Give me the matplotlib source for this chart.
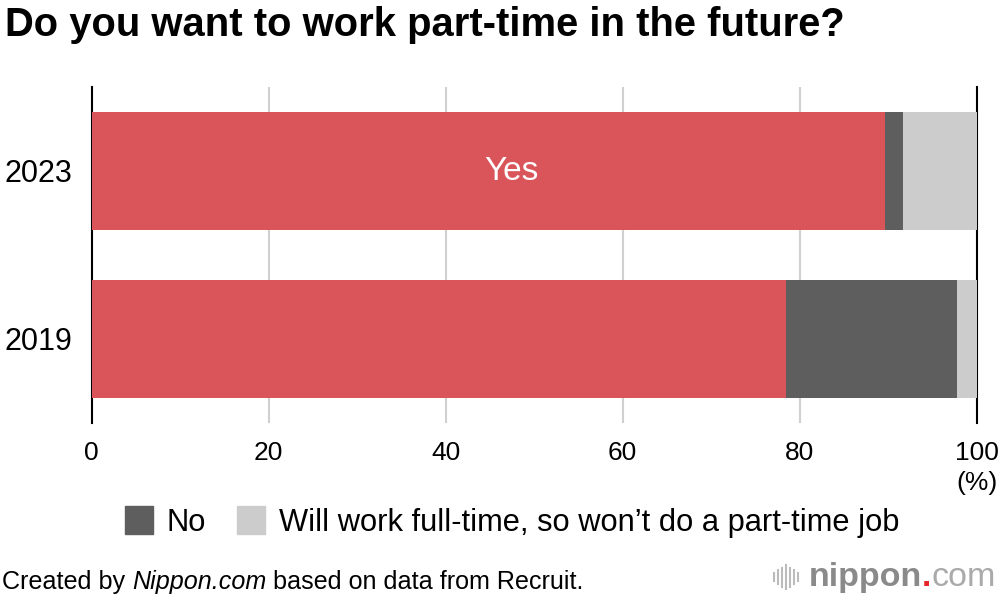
import matplotlib
matplotlib.use("Agg")
import matplotlib.pyplot as plt
from matplotlib.patches import Rectangle
from matplotlib.lines import Line2D

plt.rcParams['font.family'] = ['Liberation Sans', 'DejaVu Sans']

# Data
years = ["2019", "2023"]
yes_vals = [78.4, 89.6]
no_vals = [19.4, 2.1]
fulltime_vals = [2.2, 8.3]
xticks = [0, 20, 40, 60, 80, 100]
series_labels = ["Yes", "No", "Will work full-time, so won\u2019t do a part-time job"]
colors = ["#D9555A", "#5E5E5E", "#CCCCCC"]

fig = plt.figure(figsize=(10, 6), dpi=100)
ax = fig.add_axes([0.0917, 0.295, 0.885, 0.56])

ypos = list(range(len(years)))
lefts = [0] * len(years)
for vals, col in zip([yes_vals, no_vals, fulltime_vals], colors):
    ax.barh(ypos, vals, left=lefts, height=0.70, color=col, zorder=3)
    lefts = [l + v for l, v in zip(lefts, vals)]

ax.set_xlim(0, 100)
ax.set_ylim(-0.5, 1.5)
ax.set_yticks(ypos)
ax.set_yticklabels(years, fontsize=22)
ax.set_xticks(xticks)
ax.set_xticklabels([str(t) for t in xticks], fontsize=19)
ax.tick_params(axis='x', length=0, pad=13)
ax.tick_params(axis='y', length=0, pad=14)
for t in xticks[1:-1]:
    ax.axvline(t, color="#D0D0D0", lw=1.5, zorder=1)
for s in ["top", "bottom"]:
    ax.spines[s].set_visible(False)
for s in ["left", "right"]:
    ax.spines[s].set_color("black")
    ax.spines[s].set_linewidth(1.5)

# Yes label inside 2023 bar
ax.text(47.4, 1, series_labels[0], color="white", fontsize=24,
        ha="center", va="center", zorder=5)

# (%) under 100
fig.text(0.977, 1 - 0.805, "(%)", fontsize=19, ha="center", va="center")

# Title
fig.text(0.005, 1 - 0.042, "Do you want to work part-time in the future?",
         fontsize=28.8, fontweight="bold", ha="left", va="center")

# Legend
handles = [Rectangle((0, 0), 1, 1, color=colors[1]), Rectangle((0, 0), 1, 1, color=colors[2])]
fig.legend(handles, series_labels[1:], loc="center", bbox_to_anchor=(0.512, 1 - 0.87),
           ncol=2, frameon=False, fontsize=22.2, handlelength=0.9, handleheight=1.0,
           handletextpad=0.45, columnspacing=1.0)

# Footer
fig.canvas.draw()
renderer = fig.canvas.get_renderer()
y_foot = 1 - 0.970
t1 = fig.text(0.002, y_foot, "Created by ", fontsize=18.1, ha="left", va="center")
bb = t1.get_window_extent(renderer)
t2 = fig.text(bb.x1 / 1000, y_foot, "Nippon.com", fontsize=18.1, style="italic", ha="left", va="center")
bb = t2.get_window_extent(renderer)
fig.text(bb.x1 / 1000, y_foot, " based on data from Recruit.", fontsize=18.1, ha="left", va="center")

# nippon.com logo
bar_x = [0.774, 0.778, 0.782, 0.786, 0.790, 0.794, 0.798]
bar_h = [0.014, 0.024, 0.032, 0.040, 0.032, 0.024, 0.014]
for bx, bh in zip(bar_x, bar_h):
    fig.add_artist(Line2D([bx, bx], [1 - 0.962 - bh / 2, 1 - 0.962 + bh / 2],
                          color="#BBBBBB", lw=1.5))
ln1 = fig.text(0.809, 1 - 0.962, "nippon", fontsize=24.5, fontweight="bold",
               color="#8A8A8A", ha="left", va="center")
bb = ln1.get_window_extent(renderer)
ln2 = fig.text(bb.x1 / 1000, 1 - 0.962, ".", fontsize=24.5, fontweight="bold",
               color="#E8242B", ha="left", va="center")
bb = ln2.get_window_extent(renderer)
fig.text(bb.x1 / 1000, 1 - 0.962, "com", fontsize=24.5, color="#AAAAAA",
         ha="left", va="center")

fig.savefig("out.png", dpi=100)
